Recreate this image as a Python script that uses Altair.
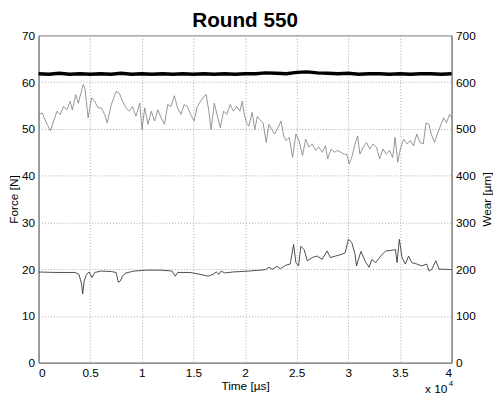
import altair as alt
import pandas as pd

# Time in units of 10^4 µs
mid_t = [0.0, 0.035, 0.083, 0.115, 0.146, 0.179, 0.21, 0.242, 0.274, 0.306, 0.327, 0.36, 0.385,
         0.432, 0.449, 0.48, 0.513, 0.544, 0.576, 0.608, 0.64, 0.665, 0.704, 0.751, 0.783, 0.814,
         0.847, 0.878, 0.91, 0.942, 0.98, 1.002, 1.028, 1.06, 1.091, 1.124, 1.155, 1.187, 1.219,
         1.251, 1.282, 1.315, 1.346, 1.378, 1.41, 1.442, 1.473, 1.506, 1.537, 1.569, 1.601, 1.623,
         1.649, 1.671, 1.702, 1.728, 1.76, 1.792, 1.823, 1.855, 1.887, 1.919, 1.95, 1.973, 1.992,
         2.014, 2.036, 2.069, 2.094, 2.119, 2.141, 2.174, 2.205, 2.231, 2.26, 2.285, 2.31, 2.349,
         2.374, 2.396, 2.428, 2.46, 2.492, 2.523, 2.556, 2.587, 2.619, 2.651, 2.683, 2.714, 2.747,
         2.778, 2.8, 2.833, 2.864, 2.896, 2.928, 2.96, 2.985, 3.007, 3.033, 3.065, 3.09, 3.112,
         3.144, 3.176, 3.208, 3.239, 3.272, 3.303, 3.335, 3.367, 3.399, 3.43, 3.453, 3.478, 3.504,
         3.535, 3.568, 3.599, 3.631, 3.663, 3.695, 3.726, 3.752, 3.781, 3.803, 3.835, 3.867, 3.898,
         3.924, 3.95, 3.981, 4.0]
mid_f = [53.1, 53.4, 51.0, 49.6, 51.7, 53.8, 53.1, 54.8, 54.1, 55.9, 54.1, 57.3, 55.5,
         59.5, 58.7, 52.4, 56.6, 55.9, 54.5, 54.5, 53.1, 51.3, 55.2, 58.0, 57.6, 55.9,
         54.5, 53.8, 54.8, 52.7, 55.5, 49.9, 54.5, 51.0, 53.8, 51.7, 54.1, 52.4, 51.0,
         55.2, 54.8, 57.1, 54.5, 53.1, 55.2, 54.8, 53.1, 51.7, 54.8, 55.9, 56.9, 57.4,
         53.8, 49.9, 55.5, 53.1, 50.3, 53.8, 53.1, 55.2, 53.8, 54.8, 53.8, 55.9, 53.1,
         51.3, 50.6, 53.5, 49.9, 52.7, 52.0, 51.3, 47.1, 51.0, 49.9, 48.9, 49.9, 51.7,
         48.5, 47.5, 48.2, 43.9, 48.9, 47.5, 44.3, 47.8, 46.1, 46.8, 45.4, 46.1, 45.0,
         46.4, 43.6, 45.7, 45.0, 45.4, 45.0, 44.6, 44.6, 42.5, 43.9, 46.8, 48.5, 44.6,
         46.1, 47.1, 45.7, 46.8, 46.1, 43.6, 45.7, 44.6, 45.4, 43.9, 48.2, 42.9, 45.7,
         47.8, 46.8, 47.5, 46.4, 48.9, 47.1, 46.8, 51.3, 51.0, 48.9, 47.1, 49.2, 51.0,
         52.4, 51.3, 53.1, 52.4]

bot_t = [0.0, 0.162, 0.353, 0.391, 0.417, 0.427, 0.442, 0.465, 0.49, 0.518, 0.544, 0.608, 0.704,
         0.751, 0.773, 0.792, 0.814, 0.847, 0.926, 1.053, 1.181, 1.292, 1.324, 1.346, 1.467,
         1.563, 1.642, 1.69, 1.721, 1.747, 1.769, 1.802, 1.881, 2.04, 2.199, 2.231, 2.263, 2.31,
         2.342, 2.39, 2.437, 2.47, 2.492, 2.518, 2.54, 2.571, 2.603, 2.651, 2.699, 2.747, 2.794,
         2.826, 2.874, 2.938, 2.969, 3.001, 3.033, 3.065, 3.079, 3.122, 3.17, 3.201, 3.227, 3.265,
         3.313, 3.361, 3.408, 3.456, 3.472, 3.494, 3.52, 3.552, 3.583, 3.615, 3.663, 3.711, 3.759,
         3.783, 3.809, 3.847, 3.879, 3.933, 4.0]
bot_f = [19.4, 19.3, 19.3, 18.9, 16.8, 14.7, 17.5, 18.9, 19.4, 18.2, 19.3, 19.6, 19.5,
         19.3, 17.2, 17.5, 18.6, 19.2, 19.6, 19.8, 19.8, 19.6, 18.5, 19.3, 19.3,
         18.9, 18.5, 18.9, 19.4, 18.9, 19.6, 19.2, 19.4, 19.6, 19.9, 20.4, 20.0, 20.6,
         20.1, 20.8, 21.1, 25.3, 21.4, 20.7, 24.9, 24.2, 21.8, 22.5, 22.8, 22.1, 23.9,
         22.5, 22.8, 23.2, 23.5, 26.4, 25.7, 23.2, 20.7, 23.8, 21.4, 20.4, 22.1, 21.4,
         22.8, 23.9, 24.0, 24.2, 21.4, 26.4, 22.5, 21.1, 22.8, 21.4, 21.1, 20.7, 21.1,
         19.6, 20.0, 21.8, 20.0, 20.0, 19.9]

wear_t = [0.0, 0.1, 0.2, 0.3, 0.4, 0.5, 0.6, 0.7, 0.8, 0.9, 1.0, 1.1, 1.2, 1.3, 1.4, 1.5,
          1.6, 1.7, 1.8, 1.9, 2.0, 2.1, 2.2, 2.3, 2.4, 2.5, 2.6, 2.7, 2.8, 2.9, 3.0, 3.1,
          3.2, 3.3, 3.4, 3.5, 3.6, 3.7, 3.8, 3.9, 4.0]
wear_v = [618, 617, 619, 617, 618, 617, 618, 617, 619, 617, 618, 617, 618, 617, 618, 617,
          618, 617, 618, 617, 618, 618, 620, 619, 618, 621, 622, 620, 619, 618, 619, 617,
          618, 618, 617, 618, 617, 618, 618, 617, 618]

x_ticks = [0, 0.5, 1, 1.5, 2, 2.5, 3, 3.5, 4]
force_ticks = [0, 10, 20, 30, 40, 50, 60, 70]
wear_ticks = [0, 100, 200, 300, 400, 500, 600, 700]

FONT = "Liberation Sans"
FRAME = "#7f7f7f"

df_mid = pd.DataFrame({"t": mid_t, "f": mid_f})
df_bot = pd.DataFrame({"t": bot_t, "f": bot_f})
df_wear = pd.DataFrame({"t": wear_t, "w": wear_v})

x_enc = alt.X(
    "t:Q",
    scale=alt.Scale(domain=[0, 4], nice=False, zero=False),
    axis=alt.Axis(values=x_ticks, format="~g", title="Time [µs]", grid=True,
                  gridDash=[1, 2], gridColor="#a8a8a8", gridWidth=1,
                  ticks=False, labelPadding=5, titlePadding=2),
)

y_force = alt.Y(
    "f:Q",
    scale=alt.Scale(domain=[0, 70], nice=False),
    axis=alt.Axis(values=force_ticks, title="Force [N]", grid=True,
                  gridDash=[1, 2], gridColor="#a8a8a8", gridWidth=1,
                  ticks=False, labelPadding=4, titlePadding=1),
)

mid = alt.Chart(df_mid).mark_line(color="#7a7a7a", strokeWidth=0.8).encode(x=x_enc, y=y_force)
bot = alt.Chart(df_bot).mark_line(color="#3a3a3a", strokeWidth=0.9).encode(x=x_enc, y=y_force)

wear = alt.Chart(df_wear).mark_line(color="#000000", strokeWidth=3.4).encode(
    x=x_enc,
    y=alt.Y(
        "w:Q",
        scale=alt.Scale(domain=[0, 700], nice=False),
        axis=alt.Axis(values=wear_ticks, title="Wear [µm]", orient="right", grid=False,
                      ticks=False, labelPadding=4, titlePadding=6,
                      titleAngle=270, titleBaseline="top"),
    ),
)

note = alt.Chart(pd.DataFrame({"s": ["x 10"]})).mark_text(
    align="left", baseline="alphabetic", fontSize=12, font=FONT, color="black"
).encode(text="s:N", x=alt.value(392), y=alt.value(363))
note_exp = alt.Chart(pd.DataFrame({"s": ["4"]})).mark_text(
    align="left", baseline="alphabetic", fontSize=8, font=FONT, color="black"
).encode(text="s:N", x=alt.value(416), y=alt.value(356))

chart = alt.layer(
    alt.layer(mid, bot),
    wear,
    note,
    note_exp,
).resolve_scale(y="independent").properties(
    width=419,
    height=332,
    autosize=alt.AutoSizeParams(type="none"),
    padding={"left": 31, "top": 25, "right": 42, "bottom": 33},
    title=alt.TitleParams("Round 550", fontSize=21, font=FONT, fontWeight="bold",
                          color="black", offset=-1, anchor="middle"),
    background="white",
).configure_view(
    stroke=FRAME, strokeWidth=1
).configure_axis(
    domainColor=FRAME, labelFont=FONT, titleFont=FONT, labelFontSize=12,
    titleFontSize=12, titleFontWeight="normal", labelColor="black", titleColor="black",
)

chart.save("out.html", embed_options={"renderer": "svg", "actions": False})
